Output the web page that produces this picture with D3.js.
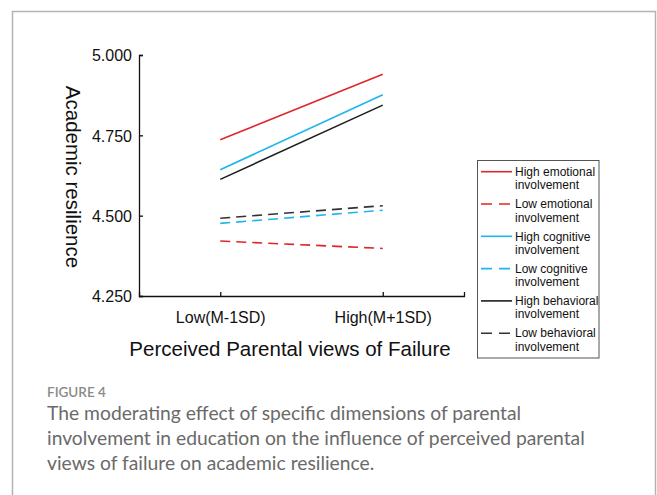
<!DOCTYPE html>
<html>
<head>
<meta charset="utf-8">
<script src="https://cdn.jsdelivr.net/npm/d3@7"></script>
<style>
  html, body { margin: 0; padding: 0; background: #fff; }
  svg { display: block; }
</style>
</head>
<body>
<svg id="fig" width="657" height="495"></svg>
<script>
// Simple-slope data: academic resilience at low / high perceived parental views of failure
const categories = ["Low(M-1SD)", "High(M+1SD)"];
const highEmotional  = [4.736, 4.940];
const lowEmotional   = [4.421, 4.398];
const highCognitive  = [4.643, 4.876];
const lowCognitive   = [4.476, 4.517];
const highBehavioral = [4.613, 4.844];
const lowBehavioral  = [4.492, 4.531];
const yTicks = [4.25, 4.5, 4.75, 5.0];
const seriesNames = [
  "High emotional involvement", "Low emotional involvement",
  "High cognitive involvement", "Low cognitive involvement",
  "High behavioral involvement", "Low behavioral involvement"
];

const RED = "#e0262d", CYAN = "#1cb6ec", DARK = "#1e1e1e";
const series = [
  { name: seriesNames[0], values: highEmotional,  color: RED,  dashed: false },
  { name: seriesNames[1], values: lowEmotional,   color: RED,  dashed: true },
  { name: seriesNames[2], values: highCognitive,  color: CYAN, dashed: false },
  { name: seriesNames[3], values: lowCognitive,   color: CYAN, dashed: true },
  { name: seriesNames[4], values: highBehavioral, color: DARK, dashed: false },
  { name: seriesNames[5], values: lowBehavioral,  color: "#333", dashed: true }
];

const svg = d3.select("#fig");
const FONT = "'Liberation Sans', Arial, Helvetica, sans-serif";
const CAPFONT = "Lato, 'Open Sans', sans-serif";

// outer figure frame (open at the bottom of the viewport)
svg.append("rect")
  .attr("x", 12.5).attr("y", 11.5)
  .attr("width", 643).attr("height", 520)
  .attr("fill", "none").attr("stroke", "#b3b3b3").attr("stroke-width", 1.5);

const x = d3.scalePoint().domain(categories).range([139, 464]).padding(0.5);
const y = d3.scaleLinear().domain([4.25, 5.0]).range([296, 55]);

// y axis
const yAxis = svg.append("g").attr("transform", "translate(139,0)")
  .call(d3.axisLeft(y).tickValues(yTicks).tickFormat(d3.format(".3f"))
    .tickSizeInner(-4).tickSizeOuter(-4).tickPadding(7));
// x axis
const xAxis = svg.append("g").attr("transform", "translate(0,296)")
  .call(d3.axisBottom(x).tickSizeInner(-4).tickSizeOuter(-4).tickPadding(16));

[yAxis, xAxis].forEach(g => {
  g.selectAll("path, line").attr("stroke", "#111").attr("stroke-width", 1.3);
  g.selectAll("text").attr("fill", "#111")
    .style("font-family", FONT).style("font-size", "16px");
});
yAxis.selectAll("text").attr("dy", "0.36em");

// axis titles
svg.append("text")
  .attr("transform", "translate(66,177) rotate(90)")
  .attr("text-anchor", "middle")
  .style("font-family", FONT).style("font-size", "20.5px").attr("fill", "#111")
  .text("Academic resilience");

svg.append("text")
  .attr("x", 290).attr("y", 356)
  .attr("text-anchor", "middle")
  .style("font-family", FONT).style("font-size", "20.5px").attr("fill", "#111")
  .text("Perceived Parental views of Failure");

// slope lines
const line = d3.line().x((d, i) => x(categories[i])).y(d => y(d));
svg.append("g").selectAll("path")
  .data(series)
  .join("path")
  .attr("d", d => line(d.values))
  .attr("fill", "none")
  .attr("stroke", d => d.color)
  .attr("stroke-width", 1.6)
  .attr("stroke-dasharray", d => d.dashed ? "10,6" : null);

// legend
const legend = svg.append("g");
legend.append("rect")
  .attr("x", 477.5).attr("y", 160.5).attr("width", 121.5).attr("height", 197.5)
  .attr("fill", "#fff").attr("stroke", "#555").attr("stroke-width", 1);

const item = legend.selectAll("g.item")
  .data(series)
  .join("g").attr("class", "item")
  .attr("transform", (d, i) => `translate(0,${171.7 + i * 32.3})`);

item.append("line")
  .attr("x1", 481).attr("x2", 512).attr("y1", 0).attr("y2", 0)
  .attr("stroke", d => d.color).attr("stroke-width", 1.6)
  .attr("stroke-dasharray", d => d.dashed ? "11,7" : null);

item.append("text")
  .attr("x", 515).attr("y", 0)
  .style("font-family", FONT).style("font-size", "12px").attr("fill", "#111")
  .each(function(d) {
    const words = d.name.split(" ");
    const t = d3.select(this);
    t.append("tspan").attr("x", 515).attr("dy", "0.35em").text(words.slice(0, 2).join(" "));
    t.append("tspan").attr("x", 515).attr("dy", "13.4px").text(words.slice(2).join(" "));
  });

// caption
svg.append("text")
  .attr("x", 47).attr("y", 397)
  .style("font-family", CAPFONT).style("font-size", "13.5px")
  .style("font-weight", 600).attr("fill", "#8a8a8a")
  .text("FIGURE 4");

const captionLines = [
  "The moderating effect of specific dimensions of parental",
  "involvement in education on the influence of perceived parental",
  "views of failure on academic resilience."
];
svg.append("g").selectAll("text")
  .data(captionLines)
  .join("text")
  .attr("x", 47).attr("y", (d, i) => 420 + i * 25)
  .style("font-family", CAPFONT).style("font-size", "19.3px")
  .style("font-weight", 400).attr("fill", "#6a6a6a")
  .text(d => d);
</script>
</body>
</html>
